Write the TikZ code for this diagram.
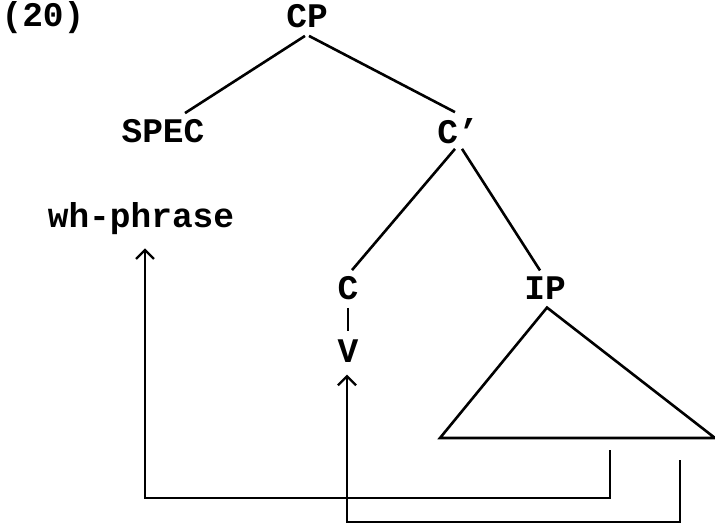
\documentclass[tikz,border=0pt]{standalone}
\usepackage{fontspec}
\setmonofont{Liberation Mono}
\usetikzlibrary{arrows.meta}
\begin{document}
\begin{tikzpicture}[x=1pt,y=-1pt,
  lab/.style={font=\ttfamily\bfseries\fontsize{34.5}{34.5}\selectfont, inner sep=0pt},
  br/.style={line width=2.6pt},
  arr/.style={line width=2.6pt, -{Straight Barb[length=9pt,width=18pt,line width=2.4pt]}}]
\useasboundingbox (0,0) rectangle (715,527);
\node[lab] (ex) at (43,18) {(20)};
\node[lab] (CP) at (307,16) {CP};
\node[lab] (SPEC) at (163,131) {SPEC};
\node[lab] (Cb) at (458,131) {C\char"2019};
\node[lab] (wh) at (141,219) {wh-phrase};
\node[lab] (C) at (348,288) {C};
\node[lab] (IP) at (545,288) {IP};
\node[lab] (V) at (348,351) {V};
% branches
\draw[br] ([xshift=-2pt,yshift=-8pt]CP.south) -- ([xshift=22pt,yshift=6pt]SPEC.north);
\draw[br] ([xshift=2pt,yshift=-8pt]CP.south) -- ([xshift=-3pt,yshift=6pt]Cb.north);
\draw[br] ([xshift=-3pt,yshift=-5pt]Cb.south) -- ([xshift=4pt,yshift=6pt]C.north);
\draw[br] ([xshift=4pt,yshift=-5pt]Cb.south) -- ([xshift=-5pt,yshift=6pt]IP.north);
\draw[br] ([yshift=-8pt]C.south) -- ([yshift=8pt]V.north);
% triangle
\draw[br, line join=miter] ([xshift=2pt,yshift=-8pt]IP.south) -- (440,438) -- (715,438) -- cycle;
% movement arrows
\coordinate (s1) at (610,450);
\coordinate (s2) at (680,460);
\draw[arr] (s1) -- (610,498) -- (145,498) -- ([xshift=4pt,yshift=-13pt]wh.south);
\draw[arr] (s2) -- (680,522) -- (347,522) -- ([xshift=-1pt,yshift=-12pt]V.south);
\end{tikzpicture}
\end{document}
